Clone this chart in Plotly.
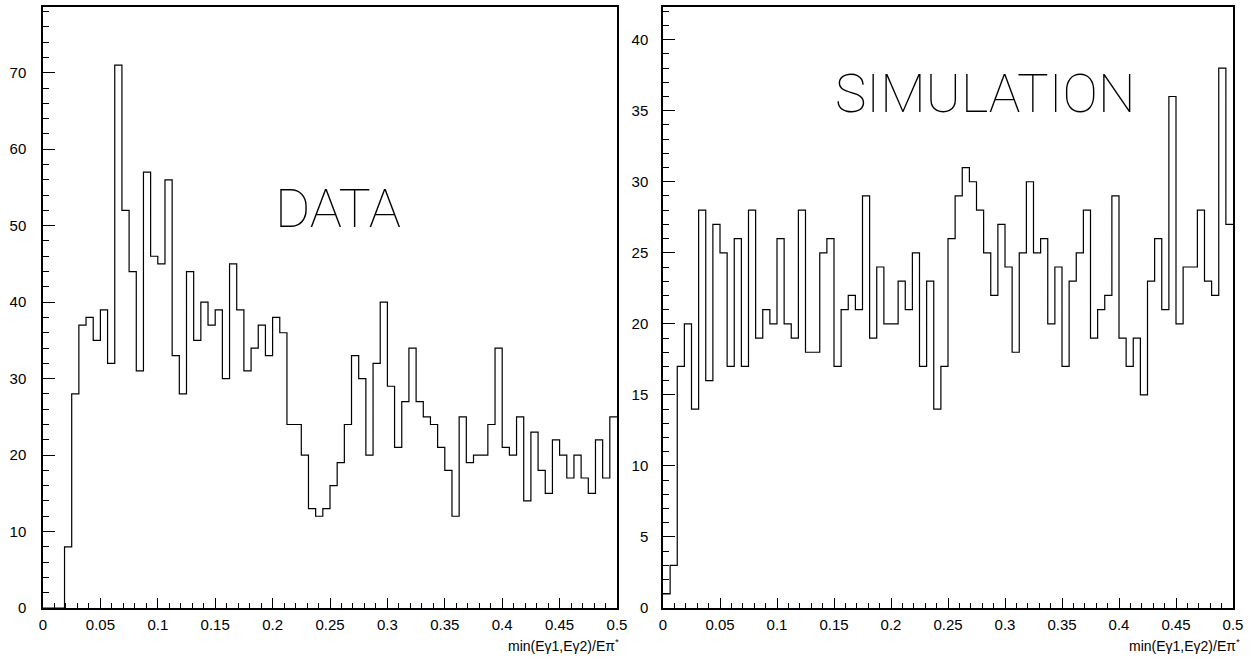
import numpy as np
import plotly.graph_objects as go

# ---- data (80 bins from 0 to 0.5) ----
n_bins = 80
x_min, x_max = 0.0, 0.5

data_counts = [0, 0, 0, 8, 28, 37, 38, 35, 39, 32,
               71, 52, 44, 31, 57, 46, 45, 56, 33, 28,
               44, 35, 40, 37, 39, 30, 45, 39, 31, 34,
               37, 33, 38, 36, 24, 24, 20, 13, 12, 13,
               16, 19, 24, 33, 30, 20, 32, 40, 29, 21,
               27, 34, 27, 25, 24, 21, 18, 12, 25, 19,
               20, 20, 24, 34, 21, 20, 25, 14, 23, 18,
               15, 22, 20, 17, 20, 17, 15, 22, 17, 25]

sim_counts = [1, 3, 17, 20, 14, 28, 16, 27, 25, 17,
              26, 17, 28, 19, 21, 20, 26, 20, 19, 28,
              18, 18, 25, 26, 17, 21, 22, 21, 29, 19,
              24, 20, 20, 23, 21, 25, 17, 23, 14, 17,
              26, 29, 31, 30, 28, 25, 22, 27, 24, 18,
              25, 30, 25, 26, 20, 24, 17, 23, 25, 28,
              19, 21, 22, 29, 19, 17, 19, 15, 23, 26,
              21, 36, 20, 24, 24, 28, 23, 22, 38, 27]

x_tick_vals = [0, 0.05, 0.1, 0.15, 0.2, 0.25, 0.3, 0.35, 0.4, 0.45, 0.5]
x_tick_text = ["0", "0.05", "0.1", "0.15", "0.2", "0.25", "0.3", "0.35", "0.4", "0.45", "0.5"]
data_y_ticks = [0, 10, 20, 30, 40, 50, 60, 70]
sim_y_ticks = [0, 5, 10, 15, 20, 25, 30, 35, 40]

x_title = "min(E\u03b31,E\u03b32)/E\u03c0<sup>*</sup>"

edges = np.linspace(x_min, x_max, n_bins + 1)


def step_xy(counts):
    xs = list(edges)
    ys = list(counts) + [counts[-1]]
    return xs, ys


W, H = 1256, 659
fig = go.Figure()

xs, ys = step_xy(data_counts)
fig.add_trace(go.Scatter(x=xs, y=ys, mode="lines", line=dict(shape="hv", color="black", width=1.2),
                         xaxis="x", yaxis="y", showlegend=False, hoverinfo="skip"))
xs, ys = step_xy(sim_counts)
fig.add_trace(go.Scatter(x=xs, y=ys, mode="lines", line=dict(shape="hv", color="black", width=1.2),
                         xaxis="x2", yaxis="y2", showlegend=False, hoverinfo="skip"))

tick_font = dict(family="Liberation Sans", size=15, color="black")

def px_x(p):
    return p / W

def px_y(p):
    return (H - p) / H

y_dom = [px_y(608), px_y(7)]

common_x = dict(range=[x_min, x_max], tickvals=x_tick_vals, ticktext=x_tick_text,
                ticks="inside", ticklen=10, tickwidth=1, tickcolor="black",
                minor=dict(dtick=0.01, tick0=0, ticks="inside", ticklen=5, tickcolor="black", tickwidth=1),
                showline=True, linecolor="black", linewidth=1.5, mirror=True, automargin=False,
                showgrid=False, zeroline=False, tickfont=tick_font, ticklabelstandoff=2)

fig.update_layout(
    template="none",
    width=W, height=H,
    margin=dict(l=0, r=0, t=0, b=0, pad=0),
    paper_bgcolor="white", plot_bgcolor="white",
    xaxis=dict(domain=[px_x(43), px_x(617)], anchor="y", **common_x),
    xaxis2=dict(domain=[px_x(663), px_x(1233)], anchor="y2", **common_x),
    yaxis=dict(domain=y_dom, anchor="x", range=[0, 78.6], tickvals=data_y_ticks,
               ticks="inside", ticklen=12, tickwidth=1, tickcolor="black",
               minor=dict(dtick=2, tick0=0, ticks="inside", ticklen=6, tickcolor="black", tickwidth=1),
               showline=True, linecolor="black", linewidth=1.5, mirror=True, automargin=False,
               showgrid=False, zeroline=False, tickfont=tick_font, ticklabelstandoff=12),
    yaxis2=dict(domain=y_dom, anchor="x2", range=[0, 42.3], tickvals=sim_y_ticks,
                ticks="inside", ticklen=12, tickwidth=1, tickcolor="black",
                minor=dict(dtick=1, tick0=0, ticks="inside", ticklen=6, tickcolor="black", tickwidth=1),
                showline=True, linecolor="black", linewidth=1.5, mirror=True, automargin=False,
                showgrid=False, zeroline=False, tickfont=tick_font, ticklabelstandoff=10),
    annotations=[
        dict(text="DATA", x=px_x(338), y=px_y(208), xref="paper", yref="paper",
             showarrow=False, xanchor="center", yanchor="middle",
             font=dict(family="Roboto", size=54, color="black", weight=100)),
        dict(text="SIMULATION", x=px_x(985), y=px_y(94), xref="paper", yref="paper",
             showarrow=False, xanchor="center", yanchor="middle",
             font=dict(family="Roboto", size=53, color="black", weight=100)),
        dict(text=x_title, x=px_x(621), y=px_y(645), xref="paper", yref="paper",
             showarrow=False, xanchor="right", yanchor="middle",
             font=dict(family="Liberation Sans", size=14, color="black")),
        dict(text=x_title, x=px_x(1242), y=px_y(645), xref="paper", yref="paper",
             showarrow=False, xanchor="right", yanchor="middle",
             font=dict(family="Liberation Sans", size=14, color="black")),
    ],
)

fig.write_html("out.html",
               config={"displayModeBar": False},
               post_script="document.body.style.margin='0';document.body.style.overflow='hidden';")
